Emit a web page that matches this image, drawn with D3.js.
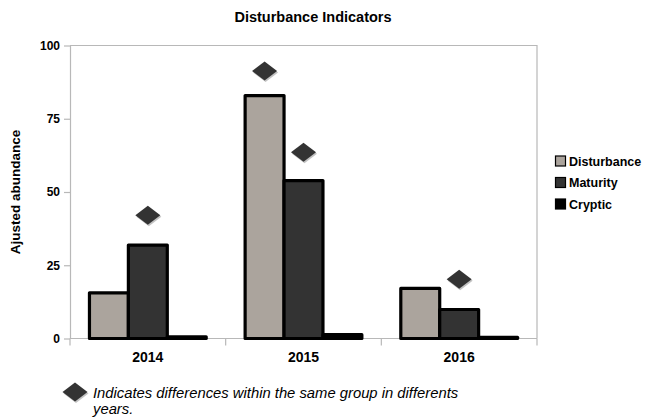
<!DOCTYPE html>
<html>
<head>
<meta charset="utf-8">
<script src="https://cdn.jsdelivr.net/npm/d3@7"></script>
<style>
  html, body { margin: 0; padding: 0; background: #fff; }
  svg { display: block; font-family: "Liberation Sans", Arial, sans-serif; }
</style>
</head>
<body>
<svg id="chart" width="652" height="420"></svg>
<script>
// Years on the x axis
const years = ["2014", "2015", "2016"];
// Indicator groups (one bar per group in each year)
const groups = ["Disturbance", "Maturity", "Cryptic"];
const groupColors = ["#aba49d", "#333333", "#000000"];
// Adjusted abundance per group, by year
const disturbance = [15.6, 82.9, 17.1];
const maturity = [31.9, 53.9, 9.9];
const cryptic = [0.6, 1.3, 0.4];
// Diamond markers: year, group and height of each marker
const markerYears = ["2014", "2015", "2015", "2016"];
const markerGroups = ["Maturity", "Disturbance", "Maturity", "Maturity"];
const markerValues = [42.1, 91.3, 63.6, 20.2];
// Y axis ticks
const yTicks = [0, 25, 50, 75, 100];

const seriesValues = { Disturbance: disturbance, Maturity: maturity, Cryptic: cryptic };

const svg = d3.select("#chart");
const margin = { left: 70, right: 115, top: 45.5, bottom: 81.5 };
const W = 652, H = 420;
const x0 = d3.scaleBand().domain(years).range([margin.left, W - margin.right]).padding(0);
const x1 = d3.scaleBand().domain(groups).range([0, x0.bandwidth()]).paddingInner(0).paddingOuter(0.5);
const y = d3.scaleLinear().domain([0, 100]).range([H - margin.bottom, margin.top]);
const color = d3.scaleOrdinal().domain(groups).range(groupColors);

const axisGrey = "#b8b8b8";

// Title
svg.append("text")
  .attr("x", 313).attr("y", 22)
  .attr("text-anchor", "middle")
  .attr("font-weight", "bold").attr("font-size", 14.5)
  .text("Disturbance Indicators");

// Plot frame (top and right edges)
svg.append("path")
  .attr("d", `M${margin.left},${y(100)}H${W - margin.right}V${y(0)}`)
  .attr("fill", "none").attr("stroke", axisGrey).attr("stroke-width", 1.2);

// Y axis
const yAxis = svg.append("g")
  .attr("transform", `translate(${margin.left},0)`)
  .call(d3.axisLeft(y).tickValues(yTicks).tickSize(6).tickPadding(4).tickSizeOuter(0));
yAxis.select(".domain").attr("stroke", axisGrey).attr("stroke-width", 1.2);
yAxis.selectAll(".tick line").attr("stroke", axisGrey).attr("stroke-width", 1.2);
yAxis.selectAll(".tick text")
  .attr("font-family", "Liberation Sans, Arial, sans-serif")
  .attr("font-weight", "bold").attr("font-size", 12).attr("fill", "#000");

// X axis with ticks at band boundaries
const xAxisG = svg.append("g").attr("transform", `translate(0,${y(0)})`);
xAxisG.append("line")
  .attr("x1", margin.left).attr("x2", W - margin.right)
  .attr("stroke", axisGrey).attr("stroke-width", 1.2);
const boundaries = years.map(d => x0(d)).concat([x0(years[years.length - 1]) + x0.bandwidth()]);
xAxisG.selectAll("line.tk").data(boundaries).join("line")
  .attr("class", "tk")
  .attr("x1", d => d).attr("x2", d => d)
  .attr("y1", 0).attr("y2", 7)
  .attr("stroke", axisGrey).attr("stroke-width", 1.2);
xAxisG.selectAll("text").data(years).join("text")
  .attr("x", d => x0(d) + x0.bandwidth() / 2)
  .attr("y", 23.5)
  .attr("text-anchor", "middle")
  .attr("font-weight", "bold").attr("font-size", 14)
  .text(d => d);

// Y axis title
svg.append("text")
  .attr("transform", `translate(20,${(y(0) + y(100)) / 2}) rotate(-90)`)
  .attr("text-anchor", "middle")
  .attr("font-weight", "bold").attr("font-size", 13.5)
  .text("Ajusted abundance");

// Bars
const barData = [];
years.forEach((yr, i) => groups.forEach(g => barData.push({ year: yr, group: g, value: seriesValues[g][i] })));
svg.append("g").selectAll("rect").data(barData).join("rect")
  .attr("x", d => x0(d.year) + x1(d.group))
  .attr("y", d => y(d.value))
  .attr("width", x1.bandwidth())
  .attr("height", d => y(0) - y(d.value))
  .attr("fill", d => color(d.group))
  .attr("stroke", "#000").attr("stroke-width", 3.2)
  .attr("stroke-linejoin", "round");

// Diamond marker shape with a soft drop shadow
function diamond(g, cx, cy) {
  const w = 12.5, h = 9.5;
  g.append("path")
    .attr("d", `M${cx + 1},${cy - h + 1.5}L${cx + w + 1},${cy + 1.5}L${cx + 1},${cy + h + 1.5}L${cx - w + 1},${cy + 1.5}Z`)
    .attr("fill", "#9a9a9a").attr("opacity", 0.6);
  g.append("path")
    .attr("d", `M${cx},${cy - h}L${cx + w},${cy}L${cx},${cy + h}L${cx - w},${cy}Z`)
    .attr("fill", "#333333");
}

const markers = svg.append("g");
markerYears.forEach((yr, i) => {
  const cx = x0(yr) + x1(markerGroups[i]) + x1.bandwidth() / 2;
  diamond(markers, cx, y(markerValues[i]));
});

// Legend
const legend = svg.append("g").attr("transform", "translate(555,0)");
groups.forEach((g, i) => {
  const cy = 161 + i * 21.5;
  legend.append("rect")
    .attr("x", 0.5).attr("y", cy - 5)
    .attr("width", 10).attr("height", 10)
    .attr("fill", color(g)).attr("stroke", "#000").attr("stroke-width", 1.2);
  legend.append("text")
    .attr("x", 14).attr("y", cy + 4.5)
    .attr("font-weight", "bold").attr("font-size", 12.5)
    .text(g);
});

// Footnote
const note = svg.append("g");
diamond(note, 75, 392);
note.append("text")
  .attr("x", 93).attr("y", 397.5)
  .attr("font-style", "italic").attr("font-size", 14.8)
  .text("Indicates differences within the same group in differents");
note.append("text")
  .attr("x", 93).attr("y", 414)
  .attr("font-style", "italic").attr("font-size", 14.8)
  .text("years.");
</script>
</body>
</html>
